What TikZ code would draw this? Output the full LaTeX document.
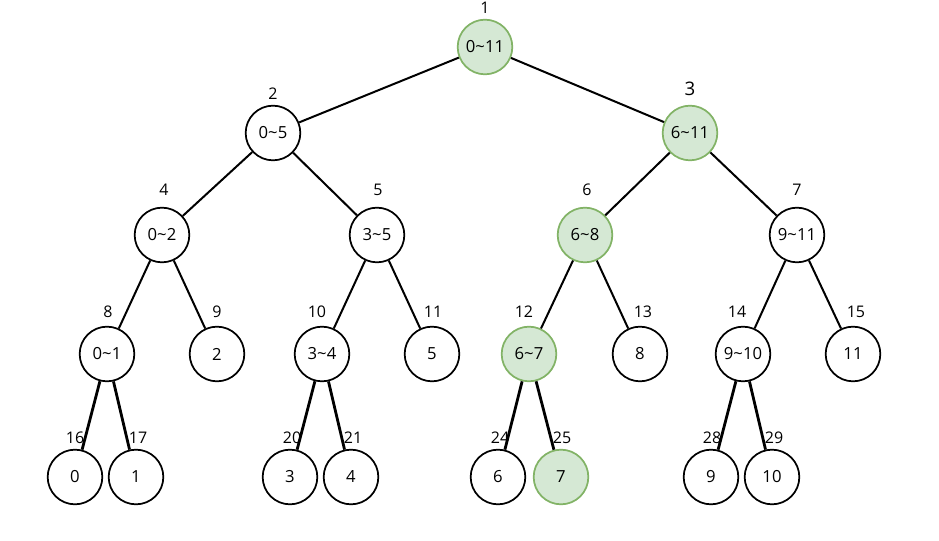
\documentclass[tikz,border=0pt]{standalone}
\usepackage{fontspec}
\setmainfont{Open Sans}
\usetikzlibrary{positioning}
\definecolor{hitfill}{HTML}{D5E8D4}
\definecolor{hitdraw}{HTML}{82B366}
\tikzstyle{seg}=[circle, draw=black, line width=1.3pt, fill=white, minimum size=41pt, inner sep=0pt, font=\fontsize{12.5}{14}\selectfont]
\tikzstyle{hit}=[seg, draw=hitdraw, fill=hitfill]
\tikzstyle{edge}=[line width=1.5pt]
\tikzstyle{lbl}=[font=\fontsize{12}{14}\selectfont, inner sep=0pt]

\begin{document}
\begin{tikzpicture}[x=0.75pt, y=-0.75pt, label distance=4pt]
        \useasboundingbox (0,0) rectangle (939,541);
        % level 0
        \node[hit, label={[lbl]above:1}] (n1) at (485,47) {0\textasciitilde11};
        % level 1
        \node[seg, label={[lbl]above:2}] (n2) at (273,133) {0\textasciitilde5};
        \node[hit, label={[lbl, font=\fontsize{14}{16}\selectfont, label distance=7pt]above:3}] (n3) at (690,133) {6\textasciitilde11};
        % level 2
        \node[seg, label={[lbl, label distance=8pt, xshift=1.5pt]above:4}] (n4) at (162,235) {0\textasciitilde2};
        \node[seg, label={[lbl, label distance=8pt, xshift=0.8pt]above:5}] (n5) at (377,235) {3\textasciitilde5};
        \node[hit, label={[lbl, label distance=8pt, xshift=1.5pt]above:6}] (n6) at (585,235) {6\textasciitilde8};
        \node[seg, label={[lbl, label distance=8pt]above:7}] (n7) at (797,235) {9\textasciitilde11};
        % level 3
        \node[seg, label={[lbl, label distance=6pt, xshift=0.8pt]above:8}] (n8) at (107,354) {0\textasciitilde1};
        \node[seg, label={[lbl, label distance=6pt]above:9}] (n9) at (217,354) {2};
        \node[seg, label={[lbl, label distance=6pt, xshift=-3.8pt]above:10}] (n10) at (322,354) {3\textasciitilde4};
        \node[seg, label={[lbl, label distance=6pt, xshift=0.8pt]above:11}] (n11) at (432,354) {5};
        \node[hit, label={[lbl, label distance=6pt, xshift=-3.8pt]above:12}] (n12) at (529,354) {6\textasciitilde7};
        \node[seg, label={[lbl, label distance=6pt, xshift=2.2pt]above:13}] (n13) at (640,354) {8};
        \node[seg, label={[lbl, label distance=6pt, xshift=-4.5pt]above:14}] (n14) at (743,354) {9\textasciitilde10};
        \node[seg, label={[lbl, label distance=6pt, xshift=2.2pt]above:15}] (n15) at (853,354) {11};
        % level 4
        \node[seg, label={[lbl]above:16}] (n16) at (75,477) {0};
        \node[seg, label={[lbl, xshift=1.5pt]above:17}] (n17) at (136,477) {1};
        \node[seg, label={[lbl, xshift=1.5pt]above:20}] (n20) at (290,477) {3};
        \node[seg, label={[lbl, xshift=1.5pt]above:21}] (n21) at (351,477) {4};
        \node[seg, label={[lbl, xshift=1.5pt]above:24}] (n24) at (498,477) {6};
        \node[hit, label={[lbl, xshift=0.8pt]above:25}] (n25) at (561,477) {7};
        \node[seg, label={[lbl, xshift=0.8pt]above:28}] (n28) at (711,477) {9};
        \node[seg, label={[lbl, xshift=1.5pt]above:29}] (n29) at (772,477) {10};

        \draw[edge] (n1) -- (n2);
        \draw[edge] (n1) -- (n3);
        \draw[edge] (n2) -- (n4);
        \draw[edge] (n2) -- (n5);
        \draw[edge] (n3) -- (n6);
        \draw[edge] (n3) -- (n7);
        \draw[edge] (n4) -- (n8);
        \draw[edge] (n4) -- (n9);
        \draw[edge] (n5) -- (n10);
        \draw[edge] (n5) -- (n11);
        \draw[edge] (n6) -- (n12);
        \draw[edge] (n6) -- (n13);
        \draw[edge] (n7) -- (n14);
        \draw[edge] (n7) -- (n15);
        \draw[edge, line width=2.1pt] (n8) -- (n16);
        \draw[edge, line width=2.1pt] (n8) -- (n17);
        \draw[edge, line width=2.1pt] (n10) -- (n20);
        \draw[edge, line width=2.1pt] (n10) -- (n21);
        \draw[edge, line width=2.1pt] (n12) -- (n24);
        \draw[edge, line width=2.1pt] (n12) -- (n25);
        \draw[edge, line width=2.1pt] (n14) -- (n28);
        \draw[edge, line width=2.1pt] (n14) -- (n29);
\end{tikzpicture}
\end{document}
